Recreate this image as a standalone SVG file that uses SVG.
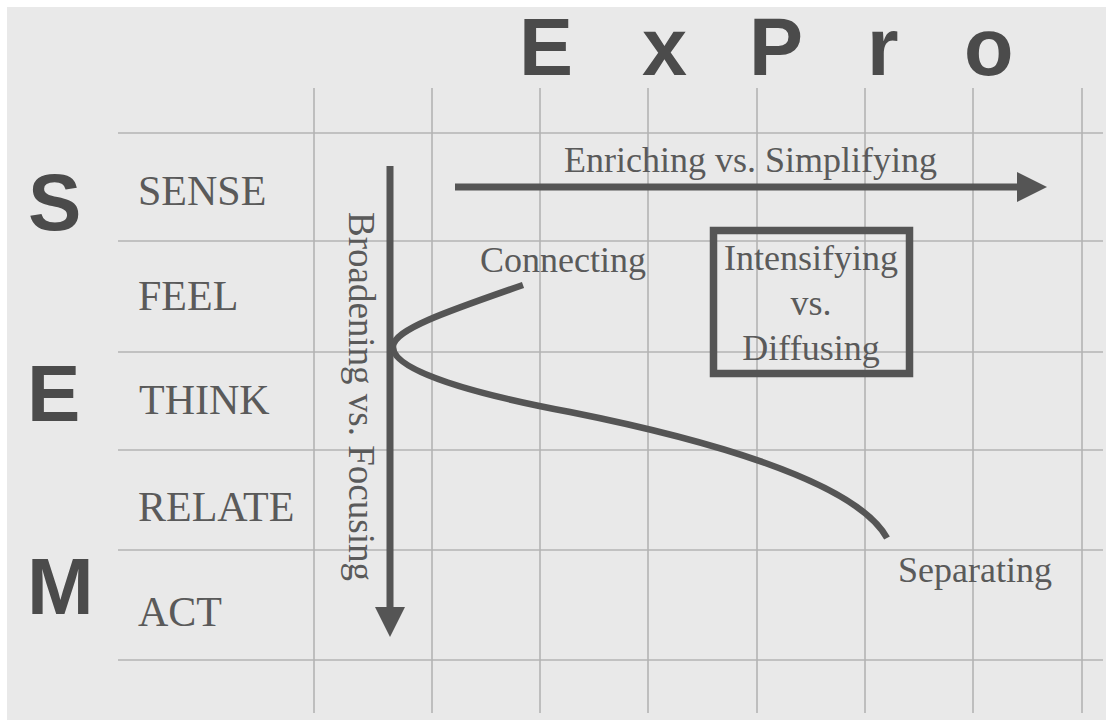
<svg xmlns="http://www.w3.org/2000/svg" width="1106" height="722" viewBox="0 0 1106 722">
  <style>
    .grid line { stroke: #b3b3b3; stroke-width: 1.6; }
    .big { font-family: "Liberation Sans", Arial, sans-serif; font-weight: bold; fill: #4b4b4b; }
    .lbl { font-family: "Liberation Serif", "Times New Roman", serif; fill: #5a5a5a; }
    .row { font-size: 42px; }
    .axis { font-size: 36px; }
    .dark { stroke: #555555; fill: none; }
  </style>
  <defs>
    <marker id="head" viewBox="0 0 30 30" markerWidth="30" markerHeight="30" refX="2" refY="15" orient="auto" markerUnits="userSpaceOnUse">
      <path d="M0,0 L30,15 L0,30 Z" fill="#555555"/>
    </marker>
  </defs>

  <!-- page -->
  <rect x="0" y="0" width="1106" height="722" fill="#ffffff"/>
  <rect x="7" y="7" width="1099" height="713" fill="#e9e9e9"/>

  <!-- grid -->
  <g class="grid">
    <line x1="118" y1="133" x2="1103" y2="133"/>
    <line x1="118" y1="241" x2="1103" y2="241"/>
    <line x1="118" y1="352" x2="1103" y2="352"/>
    <line x1="118" y1="450" x2="1103" y2="450"/>
    <line x1="118" y1="550" x2="1103" y2="550"/>
    <line x1="118" y1="660" x2="1103" y2="660"/>
    <line x1="314" y1="88" x2="314" y2="713"/>
    <line x1="432" y1="88" x2="432" y2="713"/>
    <line x1="540" y1="88" x2="540" y2="713"/>
    <line x1="648" y1="88" x2="648" y2="713"/>
    <line x1="757" y1="88" x2="757" y2="713"/>
    <line x1="865" y1="88" x2="865" y2="713"/>
    <line x1="973" y1="88" x2="973" y2="713"/>
    <line x1="1082" y1="88" x2="1082" y2="713"/>
  </g>

  <!-- title letters -->
  <g id="title" class="big" font-size="81">
    <text x="519" y="75">E</text>
    <text x="642" y="75">x</text>
    <text x="749" y="75">P</text>
    <text x="867" y="75">r</text>
    <text x="964" y="75">o</text>
  </g>

  <!-- side letters -->
  <g id="side" class="big" font-size="80">
    <text x="28" y="230">S</text>
    <text x="27" y="421">E</text>
    <text x="27" y="614">M</text>
  </g>

  <!-- row labels -->
  <g id="rows" class="lbl row">
    <text id="sense" x="138" y="205">SENSE</text>
    <text id="feel" x="138" y="310">FEEL</text>
    <text id="think" x="139" y="414">THINK</text>
    <text id="relate" x="138" y="521">RELATE</text>
    <text id="act" x="138" y="626">ACT</text>
  </g>

  <!-- connectors -->
  <g id="connectors" class="dark">
    <line x1="390" y1="166" x2="390" y2="609" stroke-width="7" marker-end="url(#head)"/>
    <line x1="455" y1="187" x2="1019" y2="187" stroke-width="7" marker-end="url(#head)"/>
    <path d="M523,285 C445,312 393,330 393,347 C393,372 480,395 570,412 C700,438 855,480 887,538" stroke-width="6.5"/>
  </g>

  <!-- axis labels -->
  <g id="axis-labels" class="lbl axis">
    <text x="564" y="172">Enriching vs. Simplifying</text>
    <text transform="translate(349,212) rotate(90)" font-size="37">Broadening vs. Focusing</text>
    <text id="connecting" x="480" y="272">Connecting</text>
    <text id="separating" x="898" y="582">Separating</text>
  </g>

  <!-- boxed label -->
  <g id="intensifying">
    <rect x="713.5" y="230.5" width="196" height="143" class="dark" stroke-width="7.5"/>
    <g class="lbl axis" text-anchor="middle">
      <text x="811" y="270">Intensifying</text>
      <text x="811" y="315">vs.</text>
      <text x="811" y="360">Diffusing</text>
    </g>
  </g>
</svg>
